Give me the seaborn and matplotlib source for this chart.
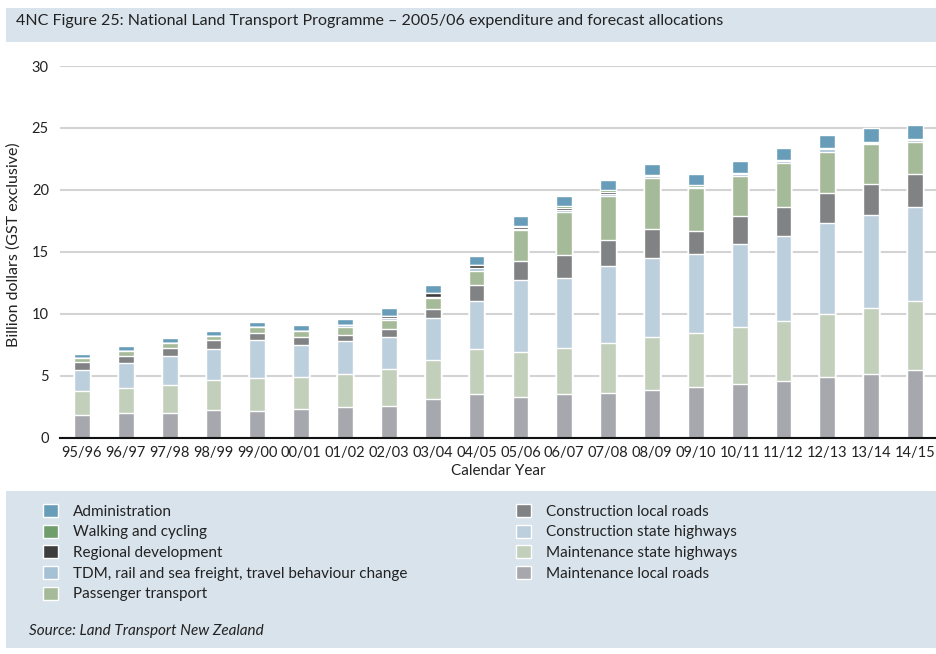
import numpy as np
import pandas as pd
import matplotlib.pyplot as plt
import seaborn as sns
from matplotlib.patches import Patch, Rectangle

# values, billion dollars
years = ["95/96", "96/97", "97/98", "98/99", "99/00", "00/01", "01/02", "02/03", "03/04", "04/05",
         "05/06", "06/07", "07/08", "08/09", "09/10", "10/11", "11/12", "12/13", "13/14", "14/15"]
maint_local = [1.78, 1.94, 1.94, 2.19, 2.11, 2.27, 2.43, 2.58, 3.07, 3.55,
               3.31, 3.55, 3.63, 3.86, 4.10, 4.34, 4.58, 4.91, 5.15, 5.47]
maint_sh = [1.94, 2.03, 2.27, 2.43, 2.67, 2.59, 2.67, 2.92, 3.16, 3.57,
            3.57, 3.65, 4.03, 4.29, 4.37, 4.59, 4.79, 5.03, 5.27, 5.52]
constr_sh = [1.70, 2.02, 2.35, 2.51, 3.08, 2.59, 2.68, 2.60, 3.41, 3.89,
             5.84, 5.68, 6.19, 6.33, 6.33, 6.68, 6.89, 7.38, 7.54, 7.62]
constr_local = [0.65, 0.57, 0.65, 0.73, 0.56, 0.65, 0.48, 0.64, 0.73, 1.30,
                1.54, 1.86, 2.11, 2.35, 1.87, 2.27, 2.35, 2.43, 2.52, 2.68]
passenger = [0.33, 0.40, 0.40, 0.32, 0.49, 0.48, 0.65, 0.73, 0.89, 1.14,
             2.51, 3.47, 3.54, 4.11, 3.48, 3.24, 3.57, 3.32, 3.24, 2.59]
tdm = [0, 0, 0, 0, 0, 0, 0.16, 0.14, 0.08, 0.24,
       0.08, 0.16, 0.19, 0.18, 0.08, 0.17, 0.16, 0.25, 0.08, 0.17]
regional = [0, 0, 0, 0, 0, 0, 0, 0.19, 0.32, 0.24,
            0.17, 0.19, 0.16, 0, 0, 0, 0, 0, 0, 0]
walking = [0, 0, 0, 0, 0, 0, 0, 0.03, 0.04, 0.02,
           0.06, 0.13, 0.11, 0.09, 0.17, 0.08, 0.06, 0.08, 0.06, 0.08]
admin = [0.32, 0.41, 0.41, 0.40, 0.40, 0.49, 0.48, 0.59, 0.61, 0.71,
         0.80, 0.81, 0.84, 0.90, 0.89, 0.97, 1.00, 1.05, 1.16, 1.13]

# bottom to top
layers = [
    ("Maintenance local roads", maint_local, "#a7a8ad"),
    ("Maintenance state highways", maint_sh, "#c1cfbb"),
    ("Construction state highways", constr_sh, "#bccfdd"),
    ("Construction local roads", constr_local, "#818284"),
    ("Passenger transport", passenger, "#a5ba98"),
    ("TDM, rail and sea freight, travel behaviour change", tdm, "#a6c0d4"),
    ("Regional development", regional, "#3d3d3d"),
    ("Walking and cycling", walking, "#6f9d6b"),
    ("Administration", admin, "#689db9"),
]

panel_col = "#d9e3ec"
text_col = "#222222"

sns.set_style("white")
plt.rcParams["font.family"] = ["Lato", "DejaVu Sans"]

df = pd.DataFrame({"year": years})
running = np.zeros(len(years))
for name, vals, col in layers:
    running = running + np.array(vals)
    df[name] = running

fig = plt.figure(figsize=(9.36, 6.54), dpi=100)
ax = fig.add_axes([60 / 936, 1 - 437.5 / 654, 877 / 936, 371.5 / 654])

# stacked bars: draw cumulative totals from the top layer down
for name, vals, col in reversed(layers):
    sns.barplot(data=df, x="year", y=name, color=col, saturation=1,
                width=0.36, errorbar=None, ax=ax)

ax.set_ylim(0, 30)
ax.set_xlim(-0.5, len(years) - 0.5)
ax.set_yticks([0, 5, 10, 15, 20, 25, 30])
ax.yaxis.grid(True, color="#d3d3d3", linewidth=1.5)
ax.set_axisbelow(True)
for s in ["top", "right", "left"]:
    ax.spines[s].set_visible(False)
ax.spines["bottom"].set_color("#111111")
ax.spines["bottom"].set_linewidth(1.5)

ax.set_xticks(np.arange(-0.5, len(years), 1), minor=True)
ax.tick_params(axis="x", which="minor", direction="in", length=7, width=1.5, color="#111111")
ax.tick_params(axis="x", which="major", length=0, pad=6, labelsize=10.5, labelcolor=text_col)
ax.tick_params(axis="y", length=0, pad=8, labelsize=10.5, labelcolor=text_col)

ax.set_xlabel("Calendar Year", fontsize=11, color=text_col, labelpad=3)
ax.set_ylabel("Billion dollars (GST exclusive)", fontsize=11.5, color=text_col)
ax.yaxis.set_label_coords(-39 / 877, 0.52)

# title bar
fig.patches.append(Rectangle((6 / 936, 1 - 42 / 654), 930 / 936, 34 / 654,
                             transform=fig.transFigure, facecolor=panel_col,
                             edgecolor="none", zorder=0))
fig.text(16 / 936, 1 - 21 / 654,
         "4NC Figure 25: National Land Transport Programme \u2013 2005/06 expenditure and forecast allocations",
         fontsize=11.5, color=text_col, va="center", ha="left")

# legend panel
fig.patches.append(Rectangle((6 / 936, 1 - 648 / 654), 930 / 936, 157 / 654,
                             transform=fig.transFigure, facecolor=panel_col,
                             edgecolor="none", zorder=0))

handles = {name: Patch(facecolor=col, edgecolor="white", linewidth=1)
           for name, vals, col in layers}
col1 = ["Administration", "Walking and cycling", "Regional development",
        "TDM, rail and sea freight, travel behaviour change", "Passenger transport"]
col2 = ["Construction local roads", "Construction state highways",
        "Maintenance state highways", "Maintenance local roads"]

leg_kw = dict(frameon=False, fontsize=11, handlelength=1.0, handleheight=0.95,
              handletextpad=0.95, labelspacing=0.38, borderaxespad=0, borderpad=0,
              labelcolor=text_col)
fig.legend([handles[n] for n in col1], col1, loc="upper left",
           bbox_to_anchor=(43 / 936, 1 - 504 / 654), **leg_kw)
fig.legend([handles[n] for n in col2], col2, loc="upper left",
           bbox_to_anchor=(516 / 936, 1 - 504 / 654), **leg_kw)

fig.text(29 / 936, 1 - 631 / 654, "Source: Land Transport New Zealand",
         fontsize=11, style="italic", color=text_col, va="center", ha="left")

fig.savefig("out.png", dpi=100)
